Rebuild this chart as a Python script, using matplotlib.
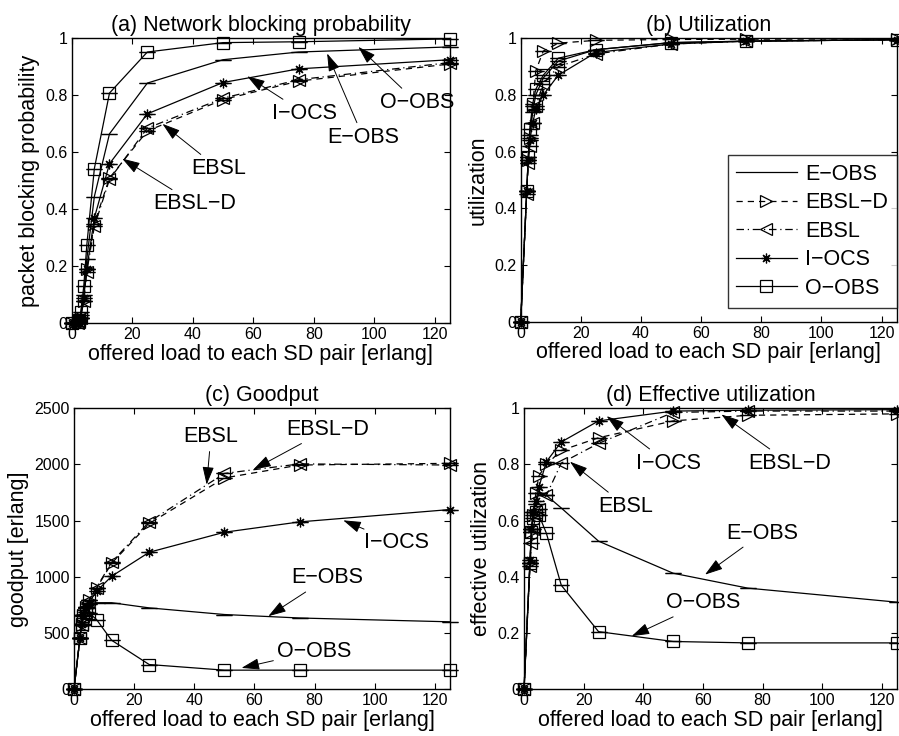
"""
Four-panel comparison of OBS/OCS schemes versus offered load (MATLAB-style figure).
"""

import numpy as np
import matplotlib
matplotlib.use("Agg")
import matplotlib.pyplot as plt

plt.rcParams["font.family"] = ["Liberation Sans", "DejaVu Sans"]
plt.rcParams["axes.unicode_minus"] = True

# offered load to each SD pair [erlang]
load = [0, 2, 2.5, 3, 4, 5, 7.5, 12.5, 25, 50, 75, 125]

# (a) network blocking probability
block_eobs = [0, 0.002, 0.008, 0.03, 0.10, 0.225, 0.445, 0.665, 0.843, 0.925, 0.952, 0.970]
block_ebsld = [0, 0.001, 0.004, 0.02, 0.08, 0.19, 0.35, 0.510, 0.675, 0.785, 0.850, 0.910]
block_ebsl = [0, 0.001, 0.004, 0.02, 0.08, 0.18, 0.34, 0.505, 0.685, 0.790, 0.855, 0.915]
block_iocs = [0, 0.001, 0.005, 0.02, 0.09, 0.19, 0.37, 0.560, 0.735, 0.845, 0.893, 0.925]
block_oobs = [0, 0.003, 0.010, 0.04, 0.13, 0.274, 0.543, 0.808, 0.952, 0.985, 0.988, 0.998]

# (b) utilization
util_eobs = [0, 0.46, 0.58, 0.66, 0.74, 0.80, 0.86, 0.92, 0.96, 0.985, 0.990, 0.995]
util_ebsld = [0, 0.46, 0.57, 0.65, 0.76, 0.885, 0.955, 0.983, 0.993, 0.996, 0.997, 0.998]
util_ebsl = [0, 0.45, 0.56, 0.62, 0.70, 0.76, 0.84, 0.90, 0.945, 0.980, 0.990, 0.995]
util_iocs = [0, 0.46, 0.57, 0.64, 0.70, 0.75, 0.80, 0.87, 0.950, 0.980, 0.990, 0.995]
util_oobs = [0, 0.46, 0.58, 0.68, 0.77, 0.82, 0.87, 0.93, 0.960, 0.985, 0.990, 0.995]

# (c) goodput [erlang]
good_eobs = [0, 460, 580, 660, 720, 760, 770, 770, 724, 665, 634, 600]
good_ebsld = [0, 455, 575, 660, 730, 790, 900, 1120, 1475, 1880, 1995, 2010]
good_ebsl = [0, 455, 575, 660, 730, 790, 905, 1130, 1490, 1920, 2005, 1995]
good_iocs = [0, 460, 580, 660, 720, 770, 872, 1005, 1219, 1397, 1489, 1599]
good_oobs = [0, 460, 580, 650, 690, 680, 620, 436, 220, 170, 170, 170]

# (d) effective utilization
eff_eobs = [0, 0.45, 0.57, 0.63, 0.66, 0.70, 0.69, 0.645, 0.527, 0.413, 0.360, 0.310]
eff_ebsld = [0, 0.45, 0.56, 0.62, 0.70, 0.76, 0.80, 0.850, 0.895, 0.955, 0.975, 0.980]
eff_ebsl = [0, 0.44, 0.52, 0.57, 0.62, 0.64, 0.69, 0.805, 0.875, 0.985, 0.990, 0.990]
eff_iocs = [0, 0.46, 0.57, 0.63, 0.67, 0.72, 0.81, 0.880, 0.955, 0.990, 0.993, 0.995]
eff_oobs = [0, 0.45, 0.56, 0.61, 0.63, 0.62, 0.555, 0.370, 0.205, 0.170, 0.165, 0.165]

names = ["E\u2212OBS", "EBSL\u2212D", "EBSL", "I\u2212OCS", "O\u2212OBS"]
x_ticks = [0, 20, 40, 60, 80, 100, 120]
prob_ticks = [0, 0.2, 0.4, 0.6, 0.8, 1]
prob_labels = ["0", "0.2", "0.4", "0.6", "0.8", "1"]
good_ticks = [0, 500, 1000, 1500, 2000, 2500]

# annotation: (label, arrow head xy, text xy)
notes_a = [
    ("O\u2212OBS", (94.7, 0.97), (114, 0.775)),
    ("E\u2212OBS", (84.4, 0.947), (96.3, 0.653)),
    ("I\u2212OCS", (58, 0.867), (77, 0.737)),
    ("EBSL", (30, 0.70), (48.5, 0.543)),
    ("EBSL\u2212D", (16.7, 0.578), (40.6, 0.42)),
]
notes_c = [
    ("EBSL", (44.1, 1821), (45.5, 2245)),
    ("EBSL\u2212D", (59.6, 1955), (84.2, 2310)),
    ("I\u2212OCS", (89.5, 1503), (107.3, 1302)),
    ("E\u2212OBS", (64.6, 650), (84.2, 990)),
    ("O\u2212OBS", (55.7, 190), (80, 338)),
]
notes_d = [
    ("I\u2212OCS", (27.7, 0.972), (48.3, 0.805)),
    ("EBSL\u2212D", (66.2, 0.978), (89, 0.805)),
    ("EBSL", (15.4, 0.81), (34.2, 0.651)),
    ("E\u2212OBS", (60.7, 0.408), (80, 0.556)),
    ("O\u2212OBS", (36.1, 0.189), (60, 0.307)),
]

STYLES = [
    dict(ls="-", marker="None"),
    dict(ls="--", marker=">", ms=9, dashes=(5, 4)),
    dict(ls="-.", marker="<", ms=9, dashes=(6, 3, 1, 3)),
    dict(ls="-", marker=(8, 2, 0), ms=7),
    dict(ls="-", marker="s", ms=8.5),
]

FS = 15.5


def panel(ax, series, title, ylabel, yticks, ylabels, ylim, notes):
    handles = []
    for y, st in zip(series, STYLES):
        st = dict(st)
        dashes = st.pop("dashes", None)
        cont = ax.errorbar(load, y, yerr=np.zeros(len(y)), color="black", lw=0.9,
                           mfc="none", mec="black", mew=0.9, capsize=6,
                           capthick=0.9, elinewidth=0.9, clip_on=False, **st)
        if dashes is not None:
            cont.lines[0].set_dashes(dashes)
        handles.append(cont.lines[0])
    ax.set_xlim(0, 125)
    ax.set_ylim(*ylim)
    ax.set_xticks(x_ticks)
    ax.set_yticks(yticks)
    ax.set_yticklabels(ylabels)
    ax.tick_params(direction="in", top=True, right=True, labelsize=11.5,
                   length=4, width=0.8, pad=3)
    for sp in ax.spines.values():
        sp.set_linewidth(1.0)
    ax.set_title(title, fontsize=FS, pad=5)
    ax.set_xlabel("offered load to each SD pair [erlang]", fontsize=FS, labelpad=1)
    ax.set_ylabel(ylabel, fontsize=FS, labelpad=4)
    for label, head, txt in notes:
        ax.annotate(label, xy=head, xytext=txt, fontsize=FS, ha="center", va="center",
                    arrowprops=dict(arrowstyle="-|>,head_length=0.5,head_width=0.16",
                                    mutation_scale=22, color="black", lw=0.7,
                                    shrinkA=1, shrinkB=0))
    return handles


fig = plt.figure(figsize=(8.99, 7.36), dpi=100)
ax_a = fig.add_axes([0.0797, 0.5607, 0.4209, 0.3872])
ax_b = fig.add_axes([0.5792, 0.5629, 0.4182, 0.3850])
ax_c = fig.add_axes([0.0823, 0.0635, 0.4183, 0.3818])
ax_d = fig.add_axes([0.5829, 0.0635, 0.4146, 0.3818])

panel(ax_a, [block_eobs, block_ebsld, block_ebsl, block_iocs, block_oobs],
      "(a) Network blocking probability", "packet blocking probability",
      prob_ticks, prob_labels, (0, 1), notes_a)
handles = panel(ax_b, [util_eobs, util_ebsld, util_ebsl, util_iocs, util_oobs],
                "(b) Utilization", "utilization", prob_ticks, prob_labels, (0, 1), [])
panel(ax_c, [good_eobs, good_ebsld, good_ebsl, good_iocs, good_oobs],
      "(c) Goodput", "goodput [erlang]", good_ticks,
      [str(t) for t in good_ticks], (0, 2500), notes_c)
panel(ax_d, [eff_eobs, eff_ebsld, eff_ebsl, eff_iocs, eff_oobs],
      "(d) Effective utilization", "effective utilization",
      prob_ticks, prob_labels, (0, 1), notes_d)

leg = ax_b.legend(handles, names, loc="lower right", fontsize=FS, frameon=True,
                  fancybox=False, edgecolor="black", borderaxespad=0.0,
                  bbox_to_anchor=(1.0, 0.05), handlelength=2.8, handletextpad=0.4,
                  labelspacing=0.35, borderpad=0.4)
leg.get_frame().set_linewidth(1.0)
leg.set_zorder(5)

fig.savefig("out.png", dpi=100)
